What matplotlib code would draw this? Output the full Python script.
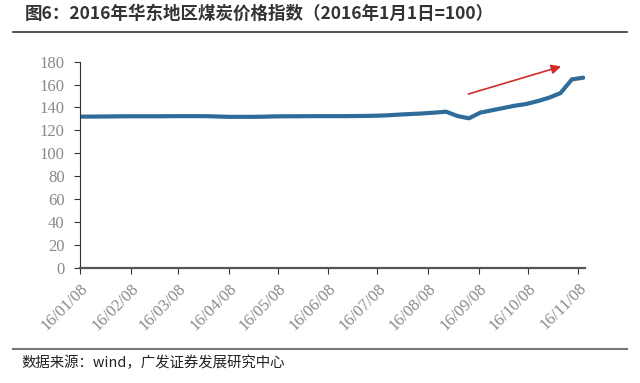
import numpy as np
import pandas as pd
import matplotlib
matplotlib.use('Agg')
import matplotlib.pyplot as plt

plt.rcParams['font.family'] = ['Noto Sans CJK SC', 'DejaVu Sans']

# 周度数据（2016年1月1日=100）
dates = pd.date_range('2016-01-08', '2016-11-11', freq='7D')
values = [132.0, 132.0, 132.1, 132.2, 132.3, 132.3, 132.3, 132.3,
          132.4, 132.4, 132.4, 132.4, 132.1, 131.8, 131.8, 131.8,
          131.9, 132.2, 132.3, 132.3, 132.4, 132.4, 132.4, 132.4,
          132.5, 132.6, 132.8, 133.2, 133.8, 134.3, 134.8, 135.5,
          136.3, 132.5, 130.5, 135.5, 137.5, 139.5, 141.5, 143.0,
          145.5, 148.5, 152.5, 164.5, 166.0]
tick_dates = pd.date_range('2016-01-01', '2016-11-01', freq='MS') + pd.Timedelta(days=7)
tick_labels = [d.strftime('%y/%m/%d') for d in tick_dates]
y_ticks = np.arange(0, 181, 20)

title = '图6：2016年华东地区煤炭价格指数（2016年1月1日=100）'
source = '数据来源：wind，广发证券发展研究中心'

# 趋势箭头
arrow_from = (pd.Timestamp('2016-08-31'), 151)
arrow_to = (pd.Timestamp('2016-10-30'), 176.5)

fig = plt.figure(figsize=(6.4, 3.83), dpi=100)
ax = fig.add_axes([0.125, 0.301, 0.789, 0.538])

ax.plot(dates, values, color='#2F6C99', lw=3, solid_capstyle='round')
ax.annotate('', xy=arrow_to, xytext=arrow_from,
            arrowprops=dict(arrowstyle='-|>', color='#D42A2A', lw=1.2,
                            mutation_scale=14))

serif = ['Liberation Serif', 'DejaVu Serif']
ax.set_xlim(pd.Timestamp('2016-01-08'), pd.Timestamp('2016-11-12'))
ax.set_ylim(0, 180)
ax.set_yticks(y_ticks)
ax.set_yticklabels([str(v) for v in y_ticks], family=serif, fontsize=12, color='#8a8a8a')
ax.set_xticks(tick_dates)
ax.set_xticklabels(tick_labels, family=serif, fontsize=12, color='#8a8a8a',
                   rotation=45, ha='right', rotation_mode='anchor')

for s in ['top', 'right']:
    ax.spines[s].set_visible(False)
ax.spines['left'].set_color('#333333')
ax.spines['bottom'].set_color('#555555')
ax.spines['bottom'].set_linewidth(1.6)
ax.tick_params(axis='both', direction='out', length=4, color='#333333')
ax.tick_params(axis='y', pad=7)
ax.tick_params(axis='x', pad=5)

fig.text(0.039, 0.963, title, fontsize=12.6, fontweight='bold', color='#333333', va='center')
fig.add_artist(plt.Line2D([0.02, 0.98], [0.916, 0.916], color='#333333', lw=1.2))
fig.add_artist(plt.Line2D([0.02, 0.98], [0.089, 0.089], color='#777777', lw=1.5))
fig.text(0.034, 0.052, source, fontsize=10.4, color='#222222', va='center')

fig.savefig('out.png', dpi=100, facecolor='white')
